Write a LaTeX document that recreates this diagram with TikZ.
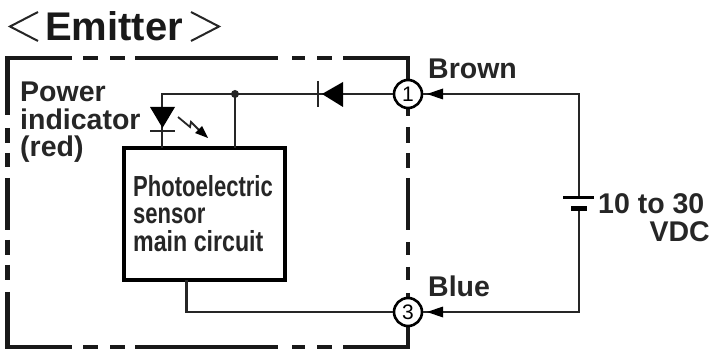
\documentclass[tikz,border=0pt]{standalone}
\usepackage{fontspec}
\usepackage{graphicx}
\setmainfont{Liberation Sans}
\tikzset{
  x=1pt,y=-1pt,
  wire/.style={line width=2.6pt,line cap=butt,line join=miter,black!85},
  frame/.style={line width=4.4pt,black!90,line join=miter},
  lbl/.style={font=\fontsize{28.5}{30}\selectfont\bfseries,inner sep=0pt,anchor=base west,black!85},
  boxlbl/.style={font=\fontsize{29}{30}\selectfont\bfseries,inner sep=0pt,anchor=base west,black!85},
  term/.style={circle,draw=black,line width=2.6pt,fill=white,minimum size=28pt,inner sep=0pt,font=\fontsize{21}{21}\selectfont}
}
\begin{document}
\begin{tikzpicture}
\useasboundingbox (0,0) rectangle (714,352);
\fill[white] (0,0) rectangle (714,352);
% frame
\draw[frame] (72,58) -- (7.5,58) -- (7.5,115);
\draw[frame] (7.5,128) -- (7.5,143);
\draw[frame] (7.5,153) -- (7.5,167);
\draw[frame] (7.5,178) -- (7.5,230);
\draw[frame] (7.5,240) -- (7.5,255);
\draw[frame] (7.5,265) -- (7.5,280);
\draw[frame] (7.5,292) -- (7.5,347) -- (72,347);
\foreach \a/\b in {83/98,110/125,135/278,292/305,317/332}{
  \draw[frame] (\a,58) -- (\b,58);
  \draw[frame] (\a,347) -- (\b,347);
}
\draw[frame] (343,58) -- (408,58) -- (408,94);
\draw[frame] (408,94) -- (408,116);
\draw[frame] (408,127) -- (408,143);
\draw[frame] (408,153) -- (408,168);
\draw[frame] (408,178) -- (408,230);
\draw[frame] (408,242) -- (408,255);
\draw[frame] (408,267) -- (408,280);
\draw[frame] (408,293) -- (408,347) -- (343,347);
% box
\node[draw=black,line width=4.5pt,fill=white,minimum width=161pt,minimum height=132pt,outer sep=0pt,inner sep=0pt] (box) at (204.5,214) {};
% terminals
\node[term] (t1) at (408,94) {1};
\node[term] (t3) at (408,312) {3};
\coordinate (corner1) at (579,94);
\coordinate (corner3) at (579,312);
\coordinate (batT) at (579,198);
\coordinate (batB) at (579,209);
\coordinate (j) at (235,94);
\coordinate (led) at (162,94);
\coordinate (ledbox) at (162,148);
\coordinate (jbox) at (235,148);
\coordinate (boxout) at (186.5,280);
\coordinate (boxturn) at (186.5,312);
% wiring
\draw[wire] (t1) -- (j) -- (led) -- (ledbox);
\draw[wire] (j) -- (jbox);
\fill[black!85] (j) circle (4pt);
\draw[wire] (boxout) -- (boxturn) -- (t3);
\draw[wire] (t1) -- (corner1) -- (batT);
\draw[wire] (batB) -- (corner3) -- (t3);
% arrowheads at terminals
\fill[black] (427,94) -- (443,88.5) -- (443,99.5) -- cycle;
\fill[black] (427,312) -- (443,306.5) -- (443,317.5) -- cycle;
% series diode
\fill[black] (322,94) -- (343,82) -- (343,107) -- cycle;
\draw[line width=2.8pt,black!85] (318,81) -- (318,107);
% LED
\fill[black] (150,107) -- (175,107) -- (162.5,128) -- cycle;
\draw[line width=2.8pt,black!85] (150,131) -- (175,131);
% light arrow
\draw[line width=1.8pt,black!85] (178,117) -- (190,127) -- (191,122) -- (199,130);
\fill[black] (208,138) -- (195,133) -- (202,126) -- cycle;
% battery
\draw[line width=3pt,black] (563,198) -- (594,198);
\draw[line width=5pt,black] (571,209) -- (587,209);
% text
\node[font=\fontsize{40}{40}\selectfont\bfseries,inner sep=0pt,anchor=base west,black!90] (title) at (45,41) {Emitter};
\draw[line width=2pt,black!85] (38,12) -- (10,26.5) -- (38,41);
\draw[line width=2pt,black!85] (191,12) -- (219,26.5) -- (191,41);
\node[lbl] (p1) at (20,102) {Power};
\node[lbl] (p2) at (20,130) {indicator};
\node[lbl] (p3) at (20,157) {(red)};
\node[boxlbl] (b1) at (133,197) {\scalebox{.76}[1]{Photoelectric}};
\node[boxlbl] (b2) at (133,224) {\scalebox{.76}[1]{sensor}};
\node[boxlbl] (b3) at (133,252) {\scalebox{.8}[1]{main circuit}};
\node[lbl] (brown) at (428,79) {Brown};
\node[lbl] (blue) at (428,297) {Blue};
\node[lbl] (v1) at (598,214) {10 to 30};
\node[lbl,anchor=base east] (v2) at (710,242) {VDC};
\end{tikzpicture}
\end{document}
